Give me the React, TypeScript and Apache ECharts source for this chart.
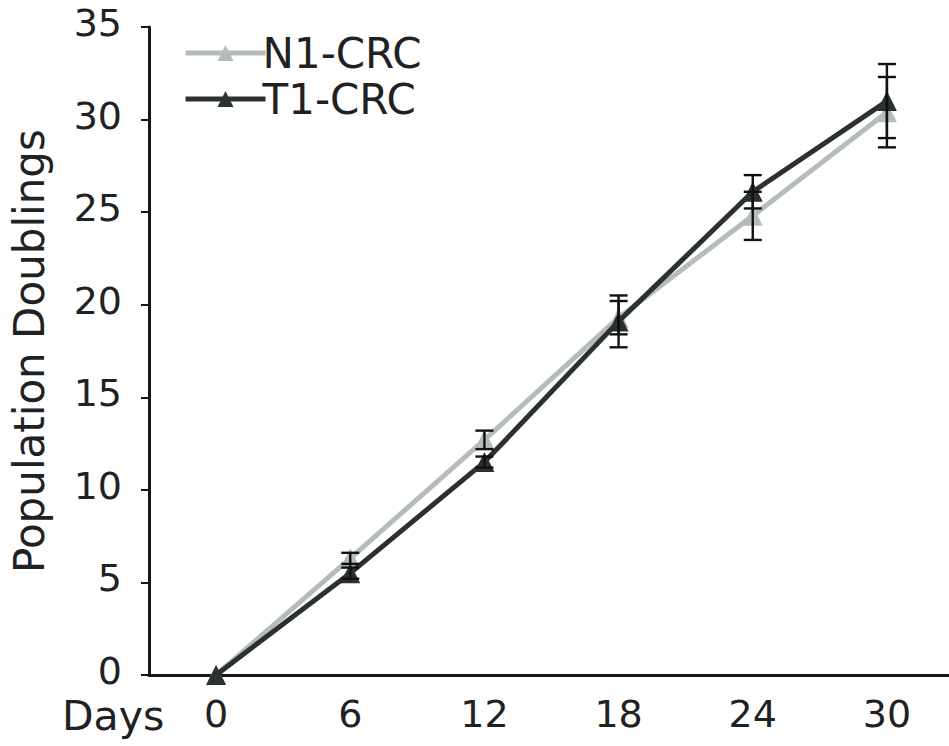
import React, { useEffect, useRef } from "react";
import * as echarts from "echarts";

const days = ["0", "6", "12", "18", "24", "30"];
const n1Values = [0, 6.3, 12.7, 19.3, 24.8, 30.4];
const t1Values = [0, 5.5, 11.5, 19.1, 26.1, 31.0];
const n1Err = [0, 0.3, 0.5, 0.9, 1.3, 1.9];
const t1Err = [0, 0.3, 0.3, 1.4, 0.9, 2.0];
const yTicks = [0, 5, 10, 15, 20, 25, 30, 35];

const FONT = "'DejaVu Sans', 'Liberation Sans', sans-serif";
const GREY = "#b4bdbb";
const DARK = "#2b3030";
const TEXT = "#1e2222";

function errData(vals: number[], errs: number[]) {
  return vals.map((v, i) => [i, v - errs[i], v + errs[i]]);
}

function renderErr(params: any, api: any) {
  const x = api.value(0);
  if (api.value(2) - api.value(1) <= 0) return null;
  const lo = api.coord([x, api.value(1)]);
  const hi = api.coord([x, api.value(2)]);
  const hw = 9;
  const st = { stroke: "#111", lineWidth: 2.4 };
  return {
    type: "group",
    children: [
      { type: "line", shape: { x1: hi[0], y1: hi[1], x2: lo[0], y2: lo[1] }, style: st },
      { type: "line", shape: { x1: hi[0] - hw, y1: hi[1], x2: hi[0] + hw, y2: hi[1] }, style: st },
      { type: "line", shape: { x1: lo[0] - hw, y1: lo[1], x2: lo[0] + hw, y2: lo[1] }, style: st },
    ],
  };
}

export default function App() {
  const ref = useRef<HTMLDivElement>(null);
  useEffect(() => {
    if (!ref.current) return;
    const chart = echarts.init(ref.current, null, { renderer: "svg" });
    chart.setOption({
      animation: false,
      backgroundColor: "#ffffff",
      textStyle: { fontFamily: FONT },
      grid: {
        left: 149,
        top: 27,
        width: 805,
        bottom: 71,
        containLabel: false,
        outerBoundsMode: "none",
      },
      legend: {
        data: ["N1-CRC", "T1-CRC"],
        orient: "vertical",
        left: 178,
        top: 27,
        itemWidth: 80,
        itemHeight: 20,
        itemGap: 4,
        lineStyle: { width: 5 },
        textStyle: { fontSize: 42, color: TEXT, fontFamily: FONT, padding: [0, 0, 0, -8] },
      },
      graphic: [
        {
          type: "text",
          left: 62,
          top: 695,
          style: { text: "Days", fontSize: 41, fill: TEXT, fontFamily: FONT },
        },
      ],
      xAxis: {
        type: "category",
        data: days,
        boundaryGap: true,
        axisLine: { lineStyle: { color: "#151515", width: 3 } },
        axisTick: { alignWithLabel: true, length: 5, lineStyle: { color: "#151515", width: 2 } },
        axisLabel: { fontSize: 38, color: TEXT, margin: 20, fontFamily: FONT },
        splitLine: { show: false },
      },
      yAxis: {
        type: "value",
        min: 0,
        max: 35,
        interval: 5,
        name: "Population Doublings",
        nameLocation: "middle",
        nameRotate: 90,
        nameGap: 99,
        nameTextStyle: { fontSize: 42, color: TEXT, fontFamily: FONT },
        axisLine: { show: true, lineStyle: { color: "#151515", width: 3 } },
        axisTick: { show: true, length: 8, lineStyle: { color: "#151515", width: 2 } },
        axisLabel: {
          fontSize: 38,
          color: TEXT,
          margin: 27,
          fontFamily: FONT,
          verticalAlign: "bottom",
          lineHeight: 8,
          customValues: yTicks,
        },
        splitLine: { show: false },
      },
      series: [
        {
          name: "N1-CRC",
          type: "line",
          data: n1Values,
          symbol: "triangle",
          symbolSize: 20,
          lineStyle: { color: GREY, width: 5 },
          itemStyle: { color: GREY },
          z: 2,
        },
        {
          name: "T1-CRC",
          type: "line",
          data: t1Values,
          symbol: "triangle",
          symbolSize: 20,
          lineStyle: { color: DARK, width: 5 },
          itemStyle: { color: DARK },
          z: 3,
        },
        {
          name: "N1 error",
          type: "custom",
          data: errData(n1Values, n1Err),
          renderItem: renderErr,
          encode: { x: 0, y: [1, 2] },
          z: 4,
        },
        {
          name: "T1 error",
          type: "custom",
          data: errData(t1Values, t1Err),
          renderItem: renderErr,
          encode: { x: 0, y: [1, 2] },
          z: 4,
        },
      ],
    });
    return () => chart.dispose();
  }, []);
  return (
    <div
      ref={ref}
      style={{ position: "fixed", left: 0, top: 0, width: 949, height: 746, background: "#fff" }}
    />
  );
}
